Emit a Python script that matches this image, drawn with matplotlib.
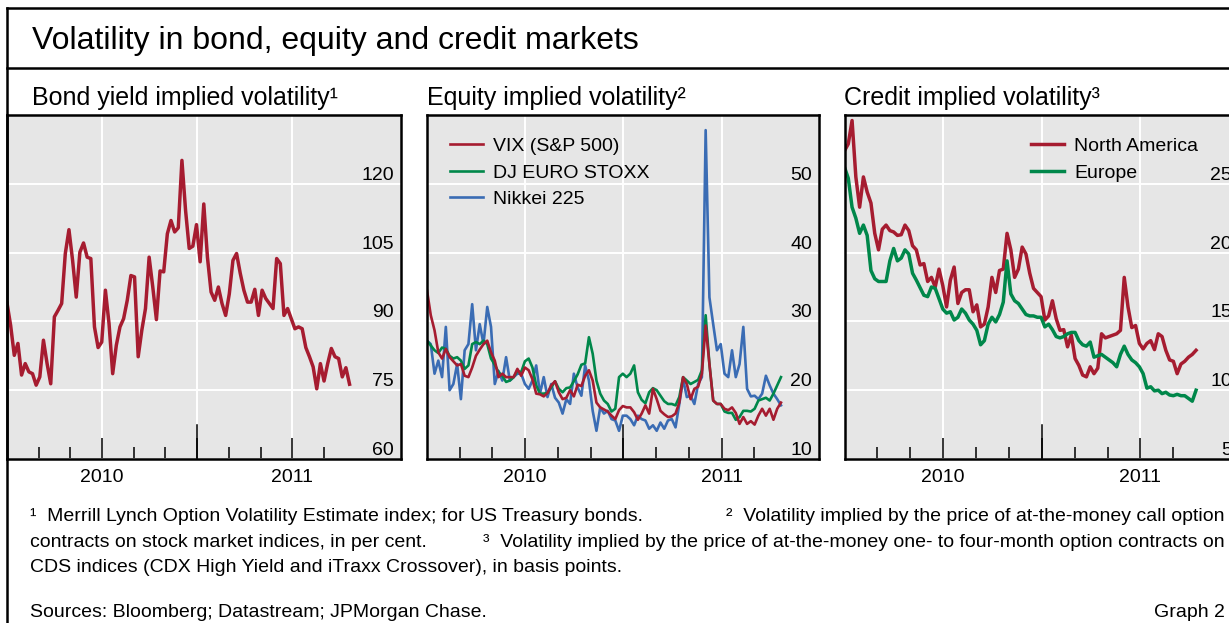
import numpy as np
import matplotlib.pyplot as plt
from matplotlib.lines import Line2D

plt.rcParams['font.family'] = ['Liberation Sans', 'DejaVu Sans']

RED = '#a61c30'
GREEN = '#00874a'
BLUE = '#3a6cb4'
BG = '#e6e6e6'

# weekly observations, first one at mid-2009
bond_move = [94.0, 89.1, 82.6, 85.2, 78.3, 80.8, 79.0, 78.6, 76.1, 77.9,
             85.9, 80.8, 76.4, 91.0, 92.4, 93.9, 104.8, 110.0, 103.3, 95.3,
             105.1, 107.1, 104.0, 103.7, 88.8, 84.3, 85.5, 96.8, 89.5, 78.6,
             84.8, 88.8, 90.6, 94.6, 100.0, 99.7, 82.3, 88.1, 92.8, 104.0,
             97.5, 90.4, 101.0, 100.8, 109.1, 112.0, 109.5, 110.4, 125.1, 114.2,
             105.9, 106.4, 111.1, 103.0, 115.6, 104.0, 96.4, 94.6, 97.5, 93.9,
             91.3, 96.0, 103.3, 104.8, 100.5, 96.8, 94.2, 94.2, 97.0, 91.3,
             96.8, 95.0, 93.9, 92.8, 103.7, 102.6, 91.3, 92.8, 90.6, 88.4,
             88.8, 88.4, 84.3, 82.3, 80.1, 75.3, 80.8, 77.0, 80.8, 84.1,
             82.3, 81.9, 77.9, 79.9, 76.3]

vix = [34.5, 30.9, 28.7, 25.5, 24.6, 26.0, 24.8, 24.2, 23.6, 23.8,
       22.1, 21.9, 23.3, 25.0, 25.9, 26.7, 27.2, 25.5, 24.3, 21.9,
       22.4, 21.9, 21.9, 21.9, 23.1, 22.1, 23.3, 22.9, 21.6, 19.5,
       19.4, 19.1, 19.6, 20.7, 21.3, 19.7, 18.7, 18.9, 20.0, 19.1,
       20.8, 20.6, 22.1, 22.9, 21.4, 18.2, 17.5, 17.2, 16.9, 16.3,
       15.8, 17.1, 17.7, 17.5, 17.5, 16.8, 15.7, 16.6, 17.8, 16.6,
       20.2, 18.7, 17.0, 16.5, 16.1, 16.2, 16.6, 18.2, 21.9, 20.9,
       18.7, 20.2, 20.5, 22.4, 29.4, 23.8, 18.5, 18.0, 18.0, 17.3,
       17.1, 17.5, 16.7, 15.1, 16.1, 15.1, 15.5, 15.0, 16.3, 17.3,
       16.3, 17.3, 15.7, 17.3, 18.2]

euro_stoxx = [27.2, 26.5, 25.8, 25.4, 26.2, 26.0, 25.0, 24.6, 24.8, 24.3,
              23.1, 23.6, 26.7, 27.0, 26.7, 27.2, 26.7, 24.6, 23.7, 22.6,
              22.1, 21.2, 21.4, 21.9, 22.8, 22.6, 24.2, 24.6, 23.3, 20.7,
              19.5, 19.5, 19.6, 20.4, 21.3, 20.2, 19.7, 20.3, 20.4, 21.3,
              22.3, 23.7, 23.9, 27.7, 25.3, 21.4, 19.5, 18.5, 18.0, 16.9,
              17.3, 21.9, 22.4, 21.9, 22.4, 23.6, 19.7, 18.6, 18.1, 19.7,
              20.3, 20.0, 19.2, 18.4, 18.0, 18.0, 17.8, 19.0, 21.9, 21.4,
              20.9, 21.2, 21.5, 22.9, 30.9, 23.8, 18.5, 18.0, 18.0, 16.9,
              16.7, 16.7, 15.7, 16.1, 17.0, 17.0, 16.9, 17.3, 18.5, 18.7,
              18.9, 18.5, 19.5, 20.7, 21.9]

nikkei = [27.2, 26.7, 22.4, 24.3, 21.9, 29.2, 20.0, 20.9, 23.8, 18.7,
          25.8, 26.7, 32.5, 25.8, 29.6, 26.7, 32.1, 29.2, 20.9, 22.8,
          21.4, 24.8, 21.4, 21.9, 22.4, 22.4, 20.9, 20.2, 21.4, 23.6,
          19.5, 21.9, 19.0, 20.9, 18.9, 18.2, 16.6, 18.7, 18.0, 22.4,
          20.4, 19.2, 23.6, 21.4, 17.0, 14.1, 17.5, 16.6, 17.0, 15.8,
          15.6, 14.1, 16.3, 16.3, 15.8, 14.9, 16.3, 15.8, 15.6, 14.4,
          14.9, 14.1, 15.3, 14.4, 15.6, 15.8, 14.6, 18.0, 21.6, 19.0,
          19.2, 18.0, 20.9, 21.9, 57.8, 33.5, 29.6, 25.8, 26.7, 22.4,
          21.9, 25.8, 21.9, 23.8, 29.2, 20.2, 19.1, 19.2, 18.7, 19.5,
          22.1, 20.7, 19.5, 18.7, 17.8]

credit_na = [27.4, 27.9, 29.6, 25.5, 23.3, 25.5, 24.4, 23.6, 21.4, 20.2,
             21.7, 22.0, 21.6, 21.5, 21.25, 21.3, 22.0, 21.6, 20.5, 20.2,
             19.1, 19.2, 17.9, 18.2, 17.5, 18.8, 17.6, 16.05, 18.0, 18.95,
             16.3, 17.1, 17.3, 17.3, 15.7, 16.2, 14.6, 14.8, 16.05, 18.2,
             17.1, 18.7, 18.8, 21.4, 20.2, 18.2, 18.8, 20.4, 19.9, 18.5,
             17.4, 17.1, 16.8, 15.1, 15.4, 16.5, 15.2, 14.35, 14.4, 13.15,
             14.0, 12.3, 11.8, 11.1, 10.97, 11.7, 11.2, 11.6, 14.1, 13.8,
             13.9, 14.0, 14.1, 14.35, 18.2, 16.05, 14.55, 14.7, 13.4, 13.0,
             13.4, 13.6, 12.95, 14.1, 13.9, 12.9, 12.2, 12.1, 11.2, 11.9,
             12.1, 12.4, 12.6, 12.9]

credit_eu = [26.2, 25.4, 23.3, 22.5, 21.4, 22.0, 21.25, 18.7, 18.1, 17.9,
             17.9, 17.9, 19.4, 20.3, 19.4, 19.6, 20.2, 19.9, 18.5, 18.0,
             17.45, 16.9, 16.8, 17.5, 17.4, 16.65, 15.9, 15.6, 15.7, 15.1,
             15.3, 15.9, 15.6, 15.1, 14.8, 14.35, 13.3, 13.6, 14.8, 15.3,
             14.96, 15.5, 16.4, 19.4, 17.0, 16.5, 16.3, 15.9, 15.5, 15.4,
             15.4, 15.3, 15.3, 14.6, 14.8, 14.4, 13.9, 13.8, 13.9, 14.1,
             14.2, 14.2, 13.6, 13.3, 13.2, 13.5, 12.4, 12.5, 12.6, 12.4,
             12.2, 12.0, 11.7, 12.6, 13.2, 12.6, 12.2, 12.0, 11.7, 11.2,
             10.15, 10.25, 9.95, 10.0, 9.75, 9.85, 9.65, 9.6, 9.7, 9.6,
             9.6, 9.4, 9.2, 10.0]


def weeks(n):
    # decimal years, weekly steps from 1 July 2009
    return 2009.5 + np.arange(n) / 52.18


W, H = 1229, 623
fig = plt.figure(figsize=(W / 100, H / 100), dpi=100)


def px_axes(left, top, right, bottom):
    return fig.add_axes([left / W, 1 - bottom / H, (right - left) / W, (bottom - top) / H])


def style(ax, xmax, ylim, yticks):
    ax.set_facecolor(BG)
    ax.set_xlim(2009.5, xmax)
    ax.set_ylim(*ylim)
    for s in ax.spines.values():
        s.set_linewidth(1.8)
    ax.set_axisbelow(True)
    # y labels sit inside the panel, on the right, just above their gridline
    ax.yaxis.tick_right()
    ax.set_yticks(yticks)
    ax.tick_params(axis='y', length=0, pad=-5, labelsize=14)
    for lab in ax.get_yticklabels():
        lab.set_horizontalalignment('right')
        lab.set_verticalalignment('bottom')
    ax.set_xticks([2010, 2010.5, 2011], ['2010', '', '2011'])
    ax.set_xticks([2009 + 4 / 6, 2009 + 5 / 6, 2010 + 1 / 6, 2010 + 2 / 6,
                   2010 + 4 / 6, 2010 + 5 / 6, 2011 + 1 / 6], minor=True)
    ax.tick_params(axis='x', which='major', direction='in', length=15, width=1.1,
                   pad=7, labelsize=14)
    ax.tick_params(axis='x', which='minor', direction='in', length=8.5, width=1.1)
    ax.grid(True, which='major', color='white', linewidth=1.4)
    ax.axvline(2010.5, ymin=0, ymax=0.1, color='black', linewidth=1.1)


leg_kw = dict(loc='upper left', frameon=False, fontsize=14, handlelength=1.7,
              handletextpad=0.55, labelspacing=0.46, borderpad=0, borderaxespad=0)

# bond panel
ax1 = px_axes(7, 115, 401, 459)
style(ax1, 2011.572, (60, 135), [60, 75, 90, 105, 120])
ax1.plot(weeks(len(bond_move)), bond_move, color=RED, linewidth=2.5)

# equity panel
ax2 = px_axes(427, 115, 819, 459)
style(ax2, 2011.495, (10, 60), [10, 20, 30, 40, 50])
ax2.plot(weeks(len(nikkei)), nikkei, color=BLUE, linewidth=1.9, label='Nikkei 225')
ax2.plot(weeks(len(euro_stoxx)), euro_stoxx, color=GREEN, linewidth=1.9, label='DJ EURO STOXX')
ax2.plot(weeks(len(vix)), vix, color=RED, linewidth=1.9, label='VIX (S&P 500)')
h, l = ax2.get_legend_handles_labels()
ax2.legend(h[::-1], l[::-1], bbox_to_anchor=(0.058, 0.935), **leg_kw)

# credit panel (runs past the right edge of the picture)
ax3 = px_axes(844.5, 115, 1239, 459)
style(ax3, 2011.5, (5, 30), [5, 10, 15, 20, 25])
ax3.plot(weeks(len(credit_na)), credit_na, color=RED, linewidth=2.5, label='North America')
ax3.plot(weeks(len(credit_eu)), credit_eu, color=GREEN, linewidth=2.5, label='Europe')
ax3.legend(bbox_to_anchor=(0.472, 0.935), **leg_kw)

# outer frame
fig.add_artist(Line2D([7 / W, 7 / W], [0, 1 - 8 / H], color='black', linewidth=1.8))
fig.add_artist(Line2D([7 / W, 1], [1 - 8 / H, 1 - 8 / H], color='black', linewidth=1.8))
fig.add_artist(Line2D([7 / W, 1], [1 - 68 / H, 1 - 68 / H], color='black', linewidth=1.8))


def ftext(x, y, s, **kw):
    fig.text(x / W, 1 - y / H, s, va='baseline', **kw)


ftext(32, 49, 'Volatility in bond, equity and credit markets', fontsize=23)
ftext(32, 105, 'Bond yield implied volatility\u00b9', fontsize=18)
ftext(427, 105, 'Equity implied volatility\u00b2', fontsize=18)
ftext(844, 105, 'Credit implied volatility\u00b3', fontsize=18)

fn = 14
ftext(30, 521, '\u00b9  Merrill Lynch Option Volatility Estimate index; for US Treasury bonds.',
      fontsize=fn)
ftext(1225, 521, '\u00b2  Volatility implied by the price of at-the-money call option',
      fontsize=fn, ha='right')
ftext(30, 547, 'contracts on stock market indices, in per cent.', fontsize=fn)
ftext(1225, 547, '\u00b3  Volatility implied by the price of at-the-money one- to four-month '
      'option contracts on', fontsize=fn, ha='right')
ftext(30, 572, 'CDS indices (CDX High Yield and iTraxx Crossover), in basis points.', fontsize=fn)
ftext(30, 617, 'Sources: Bloomberg; Datastream; JPMorgan Chase.', fontsize=fn)
ftext(1225, 617, 'Graph 2', fontsize=fn, ha='right')

fig.savefig('out.png', dpi=100)
